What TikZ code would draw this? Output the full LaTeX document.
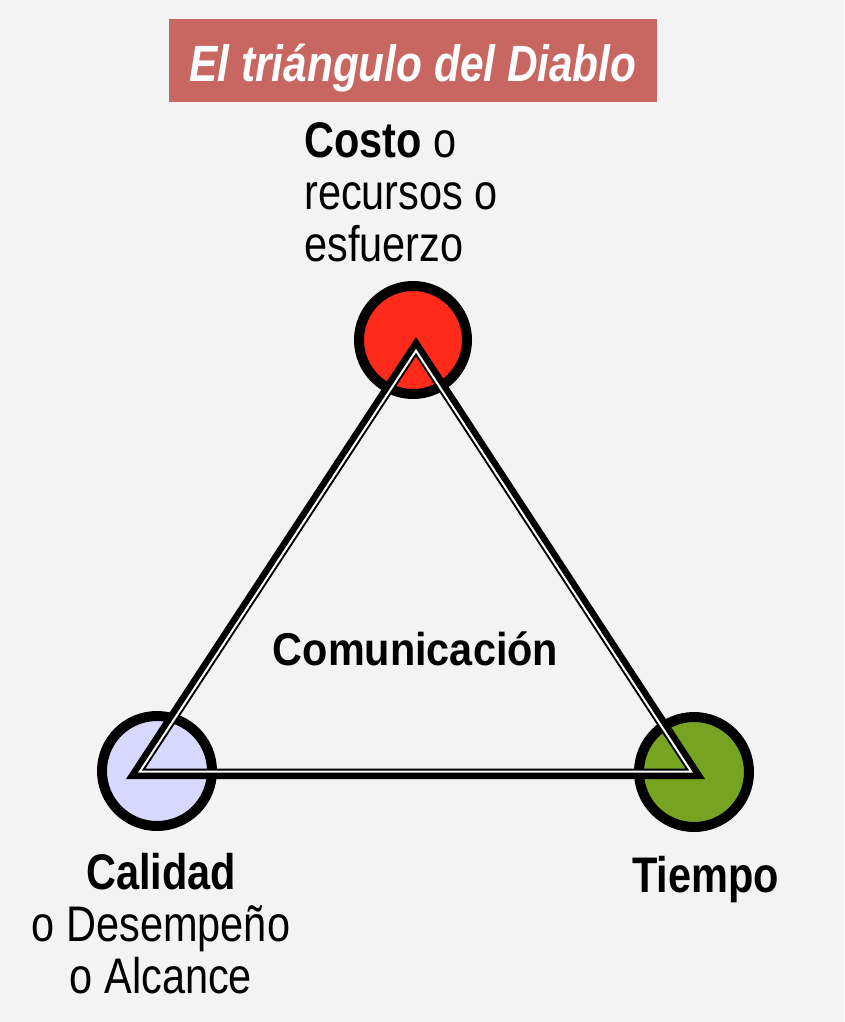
\documentclass[tikz,border=0pt]{standalone}
\usepackage{fontspec}
\setmainfont{Liberation Sans}[FakeStretch=0.83]
\newfontfamily\comfont{Liberation Sans}[FakeStretch=0.9]
\usetikzlibrary{calc}
\definecolor{bg}{RGB}{243,243,243}
\definecolor{titlered}{RGB}{200,102,98}
\definecolor{costored}{RGB}{255,42,26}
\definecolor{calidadblue}{RGB}{216,216,255}
\definecolor{tiempogreen}{RGB}{118,163,32}
\tikzset{
  vertexcircle/.style={circle, draw=black, line width=10pt, minimum size=110pt, inner sep=0pt},
  bigtext/.style={inner sep=0pt, font=\fontsize{50}{52}\selectfont},
}
\begin{document}
\begin{tikzpicture}[x=1pt,y=-1pt]
\fill[bg] (0,0) rectangle (844,1022);
\useasboundingbox (0,0) rectangle (844,1022);

% title
\node[fill=titlered, minimum width=488pt, minimum height=83pt, inner sep=0pt,
      text height=43pt, text depth=0pt, text=white,
      font=\bfseries\itshape\fontsize{51}{52}\selectfont] (title) at (413,60.5) {El triángulo del Diablo};

% circles
\node[vertexcircle, fill=costored, minimum size=108pt] (costo) at (413,340) {};
\node[vertexcircle, fill=calidadblue] (calidad) at (157,771) {};
\node[vertexcircle, fill=tiempogreen] (tiempo) at (694,772) {};

% triangle (thick outer line, white gap, thin inner line)
\coordinate (A) at (416,337);
\coordinate (B) at (126,779);
\coordinate (C) at (705,779);
\coordinate (I) at (415.5,622.7);
\draw[black, line width=10.5pt, line join=miter]
  ($(I)!0.96640!(A)$) -- ($(I)!0.96640!(B)$) -- ($(I)!0.96640!(C)$) -- cycle;
\draw[white, line width=2pt, line join=miter]
  ($(I)!0.95201!(A)$) -- ($(I)!0.95201!(B)$) -- ($(I)!0.95201!(C)$) -- cycle;

% labels
\node[bigtext, anchor=base west, align=left] (costotxt) at (304,261)
  {\textbf{Costo} o\\recursos o\\esfuerzo};
\node[bigtext, anchor=base, align=center] (calidadtxt) at (161,993)
  {\textbf{Calidad}\\o Desempeño\\o Alcance};
\node[bigtext, anchor=base, font=\bfseries\fontsize{50}{52}\selectfont] (tiempotxt) at (705.5,892) {Tiempo};
\node[inner sep=0pt, anchor=base, font=\comfont\bfseries\fontsize{46}{50}\selectfont] (comtxt) at (415.5,665) {Comunicación};
\end{tikzpicture}
\end{document}
